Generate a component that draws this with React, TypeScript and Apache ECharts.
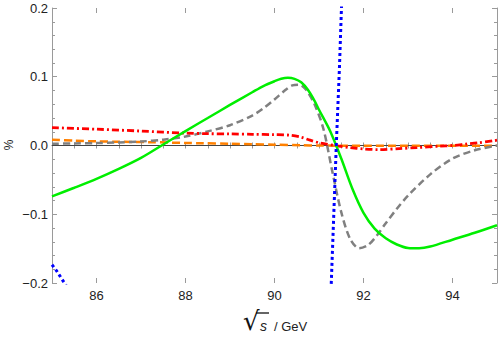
import React, { useEffect, useRef } from "react";
import * as echarts from "echarts";

// ---- data ----
const greenX = [85, 85.5, 86, 86.5, 87, 87.5, 88, 88.5, 89, 89.5, 89.75, 90, 90.15, 90.3, 90.45, 90.6, 90.75, 90.9, 91, 91.25, 91.5, 91.75, 92, 92.25, 92.5, 92.75, 93, 93.25, 93.5, 94, 94.5, 95];
const greenY = [-0.074, -0.0615, -0.0485, -0.034, -0.018, 0.0015, 0.021, 0.04, 0.059, 0.0775, 0.0865, 0.0935, 0.097, 0.0985, 0.097, 0.092, 0.081, 0.065, 0.052, 0.021, -0.019, -0.063, -0.098, -0.121, -0.135, -0.144, -0.149, -0.1495, -0.147, -0.137, -0.127, -0.116];

const grayX = [85, 85.5, 86, 86.5, 87, 87.5, 88, 88.5, 89, 89.5, 89.75, 90, 90.25, 90.4, 90.55, 90.7, 90.9, 91.1, 91.3, 91.5, 91.7, 91.9, 92.1, 92.3, 92.5, 92.75, 93, 93.5, 94, 94.5, 95];
const grayY = [0.0025, 0.003, 0.0035, 0.0045, 0.0058, 0.0085, 0.013, 0.0205, 0.0295, 0.0435, 0.054, 0.067, 0.081, 0.0875, 0.0885, 0.082, 0.06, 0.024, -0.038, -0.097, -0.136, -0.1495, -0.145, -0.131, -0.113, -0.092, -0.073, -0.042, -0.019, -0.007, 0.0];

const redX = [85, 86, 87, 88, 88.5, 89, 89.5, 90, 90.34, 90.6, 90.8, 91, 91.36, 91.7, 92, 92.36, 92.8, 93.2, 93.7, 94, 94.3, 94.6, 95];
const redY = [0.026, 0.0237, 0.021, 0.018, 0.0172, 0.0168, 0.0163, 0.0158, 0.015, 0.012, 0.0077, 0.004, 0.0, -0.003, -0.005, -0.006, -0.0045, -0.003, -0.001, 0.0, 0.002, 0.004, 0.0077];

const orangeX = [85, 85.5, 86, 86.5, 87.24, 88, 88.36, 89, 89.48, 90, 90.6, 91, 92, 93, 94, 95];
const orangeY = [0.0085, 0.007, 0.006, 0.0055, 0.0048, 0.0037, 0.0033, 0.0025, 0.0019, 0.0012, 0.0004, 0.0, -0.0005, -0.0005, -0.0003, -0.0002];

const blueLeftX = [85.0, 85.1, 85.18, 85.27, 85.35];
const blueLeftY = [-0.1735, -0.182, -0.19, -0.199, -0.207];
const blueMidX = [91.27, 91.33, 91.39, 91.46, 91.51];
const blueMidY = [-0.21, -0.104, 0.003, 0.114, 0.21];

const zeroX = [85, 95];
const zeroY = [0, 0];

const xMajorTicks = [86, 88, 90, 92, 94];
const xRange = [85, 95];
const yRange = [-0.2, 0.2];

const zip = (xs: number[], ys: number[]) => xs.map((x, i) => [x, ys[i]]);

const FONT = "'Liberation Sans', Arial, sans-serif";
const FRAME = "#9a9a9a";

export default function App() {
  const ref = useRef<HTMLDivElement>(null);
  useEffect(() => {
    if (!ref.current) return;
    const chart = echarts.init(ref.current, null, { renderer: "svg" });

    const baseX = (position: "top" | "bottom", labels: boolean) => ({
      type: "value",
      position,
      min: xRange[0],
      max: xRange[1],
      interval: 0.5,
      axisLine: { show: true, lineStyle: { color: FRAME, width: 1 } },
      axisTick: { show: true, inside: true, length: 3, lineStyle: { color: FRAME } },
      axisLabel: labels
        ? {
            show: true,
            customValues: xMajorTicks,
            formatter: (v: number) => (xMajorTicks.includes(v) ? String(v) : ""),
            color: "#222",
            fontSize: 13,
            fontFamily: FONT,
            margin: 6,
          }
        : { show: false },
      splitLine: { show: false },
    });
    const majorX = (position: "top" | "bottom") => ({
      type: "value",
      position,
      min: xRange[0],
      max: xRange[1],
      interval: 0.5,
      axisLine: { show: false },
      axisTick: { show: true, inside: true, length: 5, customValues: xMajorTicks, lineStyle: { color: FRAME } },
      axisLabel: { show: false },
      splitLine: { show: false },
    });
    const baseY = (position: "left" | "right", labels: boolean) => ({
      type: "value",
      position,
      min: yRange[0],
      max: yRange[1],
      interval: 0.1,
      axisLine: { show: true, lineStyle: { color: FRAME, width: 1 } },
      axisTick: { show: true, inside: true, length: 5, lineStyle: { color: FRAME } },
      minorTick: { show: true, splitNumber: 5, length: 3, lineStyle: { color: FRAME } },
      axisLabel: labels
        ? {
            show: true,
            color: "#222",
            fontSize: 13,
            fontFamily: FONT,
            margin: 4,
            formatter: (v: number) =>
              Math.abs(v) < 1e-9 ? "0.0" : (v < 0 ? "\u2212" : "") + Math.abs(v).toFixed(1),
          }
        : { show: false },
      splitLine: { show: false },
      minorSplitLine: { show: false },
    });

    const line = (data: number[][], color: string, type: any, width: number, z: number, smooth: number | boolean = 0.3) => ({
      type: "line",
      data,
      xAxisIndex: 0,
      yAxisIndex: 0,
      showSymbol: false,
      symbol: "none",
      smooth,
      z,
      clip: true,
      lineStyle: { color, width, type },
    });

    chart.setOption({
      animation: false,
      grid: { left: 52, right: 1, top: 8, bottom: 55, containLabel: false },
      xAxis: [baseX("bottom", true), baseX("top", false), majorX("bottom"), majorX("top")],
      yAxis: [baseY("left", true), baseY("right", false)],
      series: [
        line(zip(zeroX, zeroY), "#444444", "solid", 1.2, 1, false),
        line(zip(orangeX, orangeY), "#ff8000", [8, 4], 2.5, 2),
        line(zip(grayX, grayY), "#808080", [7, 4], 2.5, 3),
        line(zip(redX, redY), "#ff0000", [7, 3, 2, 3], 2.8, 4),
        line(zip(greenX, greenY), "#00ee00", "solid", 2.5, 5),
        line(zip(blueLeftX, blueLeftY), "#0000ff", [3, 3], 3, 6, false),
        line(zip(blueMidX, blueMidY), "#0000ff", [3, 3], 3, 6, false),
      ],
      graphic: [
        {
          type: "text",
          x: 9,
          y: 145,
          rotation: Math.PI / 2,
          style: { text: "%", fontSize: 12, fontFamily: FONT, fill: "#222", align: "center", verticalAlign: "middle" },
        },
        {
          type: "text",
          x: 243,
          y: 321,
          style: { text: "\u221A", fontSize: 26, fontFamily: "'DejaVu Sans'", fill: "#111", align: "left", verticalAlign: "middle" },
        },
        {
          type: "line",
          shape: { x1: 256, y1: 313, x2: 269, y2: 313 },
          style: { stroke: "#111", lineWidth: 1.3 },
        },
        {
          type: "text",
          x: 260,
          y: 326,
          style: { text: "s", fontSize: 14, fontStyle: "italic", fontFamily: FONT, fill: "#222", align: "left", verticalAlign: "middle" },
        },
        {
          type: "text",
          x: 274,
          y: 326,
          style: { text: "/ GeV", fontSize: 13, fontFamily: FONT, fill: "#222", align: "left", verticalAlign: "middle" },
        },
      ],
    });
    return () => chart.dispose();
  }, []);
  return <div ref={ref} style={{ width: 498, height: 338, position: "absolute", left: 0, top: 0 }} />;
}
